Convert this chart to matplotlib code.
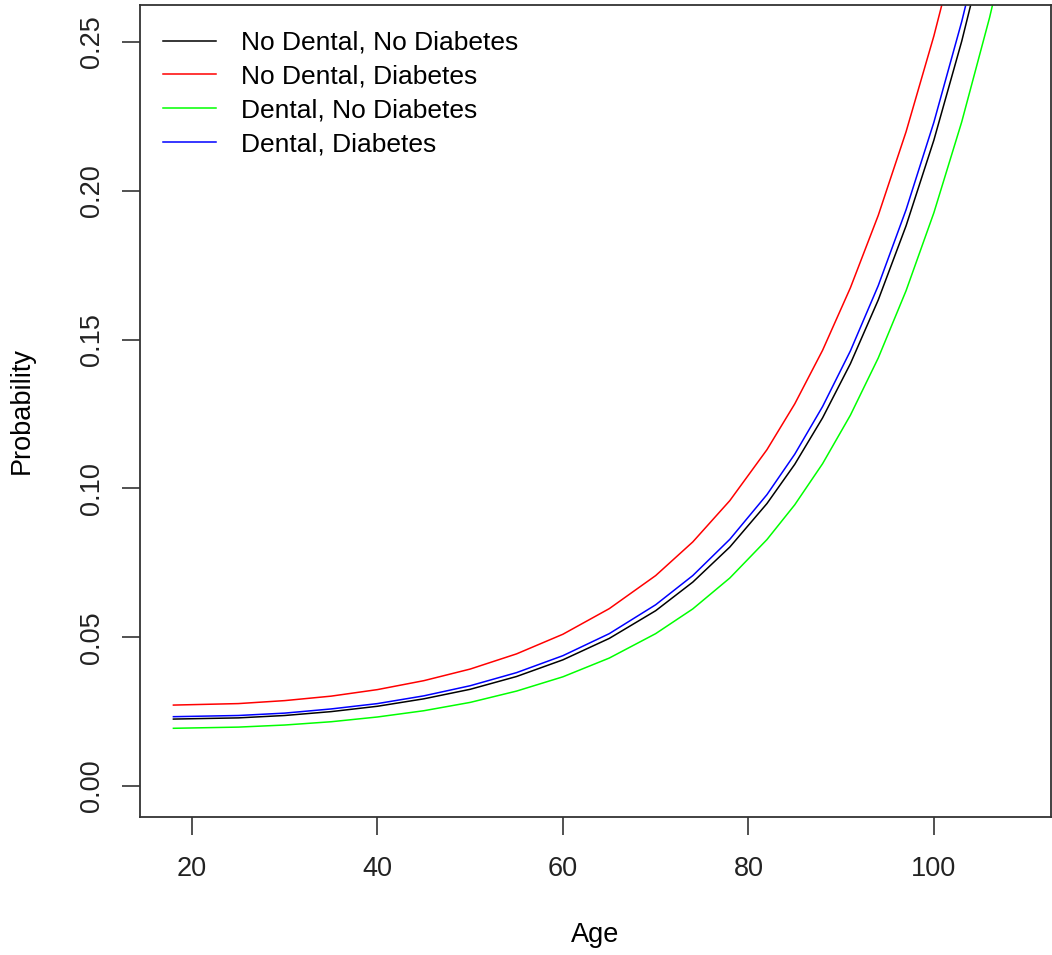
import matplotlib
matplotlib.use("Agg")
import matplotlib.pyplot as plt

plt.rcParams['font.family'] = ['Liberation Sans', 'DejaVu Sans']

age = [18, 25, 30, 35, 40, 45, 50, 55, 60, 65, 70, 74, 78, 82, 85, 88,
       91, 94, 97, 100, 103, 106, 109]

# predicted probability per group
no_dental_no_diab = [0.0225, 0.0229, 0.0237, 0.0250, 0.0268, 0.0293, 0.0325,
                     0.0368, 0.0424, 0.0496, 0.0589, 0.0685, 0.0803, 0.0949,
                     0.1081, 0.1237, 0.1419, 0.1633, 0.1882, 0.2170, 0.2502,
                     0.2879, 0.3303]
no_dental_diab = [0.0272, 0.0277, 0.0287, 0.0302, 0.0324, 0.0354, 0.0393,
                  0.0444, 0.0510, 0.0596, 0.0707, 0.0820, 0.0959, 0.1130,
                  0.1284, 0.1464, 0.1674, 0.1917, 0.2198, 0.2520, 0.2885,
                  0.3295, 0.3747]
dental_no_diab = [0.0194, 0.0198, 0.0205, 0.0216, 0.0232, 0.0253, 0.0281,
                  0.0319, 0.0367, 0.0430, 0.0512, 0.0595, 0.0699, 0.0828,
                  0.0945, 0.1083, 0.1246, 0.1438, 0.1664, 0.1926, 0.2231,
                  0.2581, 0.2980]
dental_diab = [0.0233, 0.0237, 0.0245, 0.0259, 0.0277, 0.0303, 0.0337,
               0.0381, 0.0438, 0.0512, 0.0609, 0.0707, 0.0829, 0.0979,
               0.1115, 0.1275, 0.1462, 0.1681, 0.1936, 0.2230, 0.2568,
               0.2951, 0.3381]

labels = ["No Dental, No Diabetes", "No Dental, Diabetes",
          "Dental, No Diabetes", "Dental, Diabetes"]
series = [no_dental_no_diab, no_dental_diab, dental_no_diab, dental_diab]
colors = ["black", "#FF0000", "#00FF00", "#0000FF"]

x_ticks = [20, 40, 60, 80, 100]
y_ticks = [0.00, 0.05, 0.10, 0.15, 0.20, 0.25]

fig = plt.figure(figsize=(10.52, 9.55), dpi=100)
ax = fig.add_axes([0.1331, 0.1445, 0.8657, 0.8503])

for vals, lab, col in zip(series, labels, colors):
    ax.plot(age, vals, color=col, lw=1.1, label=lab)

ax.set_xlim(14.4, 112.6)
ax.set_ylim(-0.0104, 0.2624)
ax.set_xticks(x_ticks)
ax.set_xticklabels([str(t) for t in x_ticks])
ax.set_yticks(y_ticks)
ax.set_yticklabels(["%.2f" % t for t in y_ticks], rotation=90, va='center')

ax.tick_params(direction='out', length=13, width=1.1,
               labelsize=19.5, colors='#222222')
ax.tick_params(axis='x', pad=15)
ax.tick_params(axis='y', pad=12.5)
for sp in ax.spines.values():
    sp.set_linewidth(1.3)
    sp.set_color('#333333')

ax.set_xlabel("Age", fontsize=19.5)
ax.set_ylabel("Probability", fontsize=19.5)
ax.xaxis.set_label_coords(0.5, -0.1453)
ax.yaxis.set_label_coords(-0.1296, 0.5)
ax.xaxis.label.set_va('center')
ax.yaxis.label.set_va('center')

ax.legend(loc='upper left', bbox_to_anchor=(0.0253, 0.968), frameon=False,
          fontsize=19, handlelength=2.0, handletextpad=0.95,
          labelspacing=0.37, borderaxespad=0, borderpad=0)

fig.savefig("out.png", dpi=100)
